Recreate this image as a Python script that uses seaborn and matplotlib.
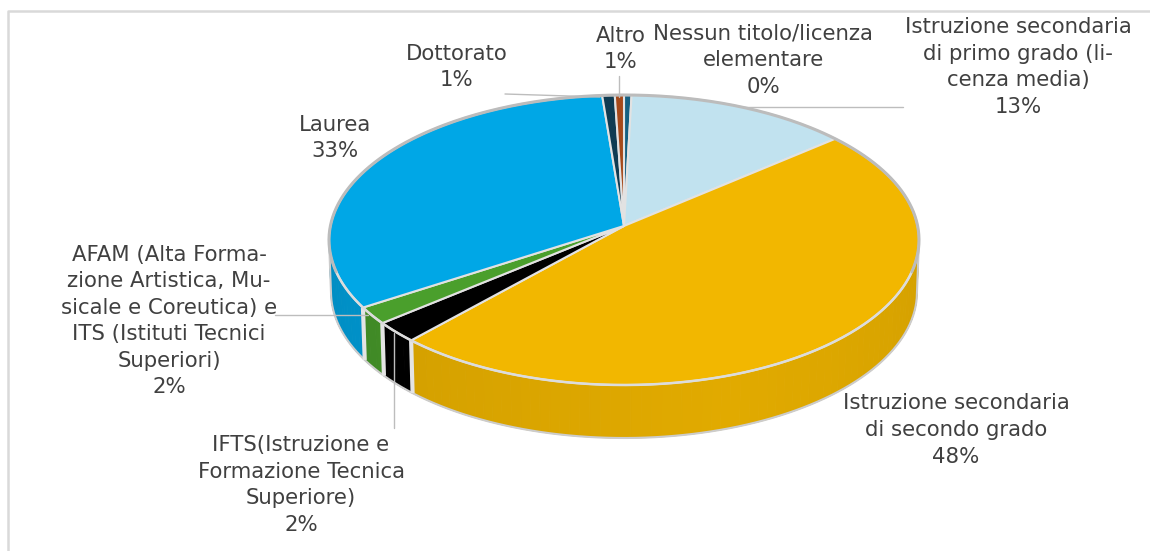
import numpy as np
import seaborn as sns
import matplotlib.pyplot as plt
from matplotlib.patches import Polygon
from matplotlib.colors import to_rgb

sns.set_theme(style='white')
plt.rcParams['font.family'] = ['DejaVu Sans']

# dati
categorie = ['Nessun titolo/licenza\nelementare',
             'Istruzione secondaria\ndi primo grado (li-\ncenza media)',
             'Istruzione secondaria\ndi secondo grado',
             'IFTS(Istruzione e\nFormazione Tecnica\nSuperiore)',
             'AFAM (Alta Forma-\nzione Artistica, Mu-\nsicale e Coreutica) e\nITS (Istituti Tecnici\nSuperiori)',
             'Laurea', 'Dottorato', 'Altro']
valori = [0.45, 13.4, 47.9, 2.3, 1.9, 32.75, 0.75, 0.55]
colori = ['#156082', '#c1e2ef', '#f2b700', '#000000', '#4a9f2c', '#00a7e6', '#0f3b52', '#a5491a']
pos_etichette = [(763, 60), (1018, 67), (956, 430), (301, 485), (169, 321), (335, 138), (457, 67), (621, 49)]
guide = [None, [(743, 107), (903, 107)], None, [(394, 333), (394, 428)], [(275, 315), (368, 315)],
         None, [(505, 94), (600, 97)], [(619, 76), (619, 97)]]

# geometria della torta (pixel)
CX, CY, RX, RY = 624, 240, 295, 145
CY2, RX2, RY2 = 292, 293, 146
PERSP = 0.097
FIANCO_DA, FIANCO_A = 26.5, 73.5  # dove il bordo dell'ellisse gira dietro


def proietta(perc, cy=CY, rx=RX, ry=RY):
    t = np.asarray(perc) / 100 * 2 * np.pi
    x, y = np.sin(t), np.cos(t)
    d = 1 + PERSP * y
    X = x * np.sqrt(1 - PERSP**2) / d
    Y = (y + PERSP) / d
    return np.column_stack([CX + rx * X, cy - ry * Y])


def scurisci(col, f):
    return tuple(c * f for c in to_rgb(col))


sns.set_palette(colori)
fig = plt.figure(figsize=(11.5, 5.51), dpi=100)
ax = fig.add_axes([0, 0, 1, 1])
ax.set_xlim(0, 1150)
ax.set_ylim(551, 0)
ax.axis('off')

# cornice
ax.plot([8, 8, 1150], [551, 11, 11], color='#d9d9d9', lw=1.8, zorder=1)

limiti = np.concatenate([[0], np.cumsum(valori)])
apice = np.array([CX, CY - RY * PERSP])

# fianco: solo la parte frontale
for i, col in enumerate(colori):
    a, b = max(limiti[i], FIANCO_DA), min(limiti[i + 1], FIANCO_A)
    if b <= a:
        continue
    tt = np.linspace(a, b, max(int((b - a) * 2), 2) + 1)
    for t0, t1 in zip(tt[:-1], tt[1:]):
        tm = (t0 + t1) / 2
        # piu scuro verso i lati
        f = 0.93 - 0.09 * abs(tm - 45) / 30
        s = np.linspace(t0, t1, 3)
        poly = np.vstack([proietta(s), proietta(s[::-1], CY2, RX2, RY2)])
        c = scurisci(col, f)
        ax.add_patch(Polygon(poly, closed=True, fc=c, ec=c, lw=0.7, zorder=2))

# bordo esterno del fianco
s = np.linspace(FIANCO_DA, FIANCO_A, 200)
bordo = np.vstack([proietta([FIANCO_DA]), proietta(s, CY2, RX2, RY2), proietta([FIANCO_A])])
ax.plot(*bordo.T, color='#cccccc', lw=1.5, zorder=3)

# separatori del fianco
for v in limiti[1:]:
    if FIANCO_DA < v < FIANCO_A:
        p0 = proietta([v], CY, RX, RY)[0]
        p1 = proietta([v], CY2, RX2, RY2)[0]
        ax.plot([p0[0], p1[0]], [p0[1], p1[1]], color='#e4e4e4', lw=3, zorder=3, solid_capstyle='butt')

# facce superiori
for i, col in enumerate(colori):
    s = np.linspace(limiti[i], limiti[i + 1], max(int(valori[i] * 3), 3))
    poly = np.vstack([apice, proietta(s)])
    ax.add_patch(Polygon(poly, closed=True, fc=col, ec='#e2e2e2', lw=1.5, joinstyle='round', zorder=4))

# bordo superiore: davanti piu chiaro, dietro piu scuro
s = np.linspace(30, 70, 200)
ax.plot(*proietta(s).T, color='#dcdcdc', lw=1.8, zorder=5)
s = np.linspace(-30, 30, 240)
ax.plot(*proietta(s).T, color='#bcbcbc', lw=2.2, zorder=5)

# etichette
for nome, v, (x, y) in zip(categorie, valori, pos_etichette):
    ax.text(x, y, f'{nome}\n{round(v)}%', ha='center', va='center', fontsize=15.3,
            color='#404040', linespacing=1.41, zorder=7)

for g in guide:
    if g is not None:
        ax.plot([g[0][0], g[1][0]], [g[0][1], g[1][1]], color='#bdbdbd', lw=1, zorder=6)

fig.savefig('out.png', dpi=100, facecolor='white')
